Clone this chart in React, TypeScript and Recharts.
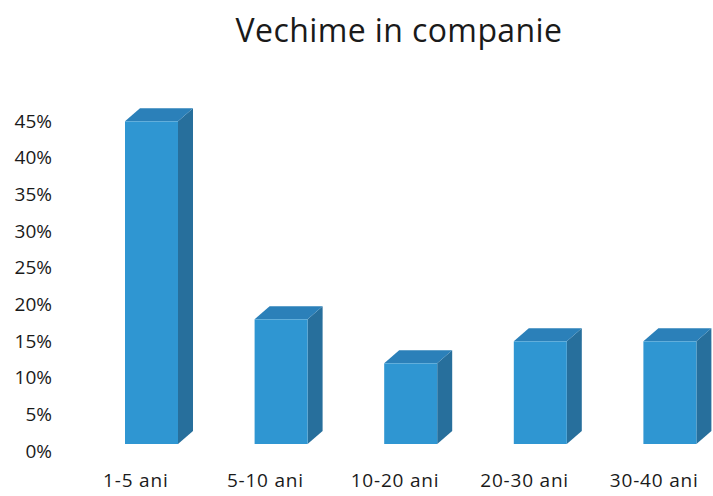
import React from "react";
import { BarChart, Bar, XAxis, YAxis } from "recharts";

const categories = ["1-5 ani", "5-10 ani", "10-20 ani", "20-30 ani", "30-40 ani"];
const values = [0.44, 0.17, 0.11, 0.14, 0.14];
const yTicks = [0, 0.05, 0.1, 0.15, 0.2, 0.25, 0.3, 0.35, 0.4, 0.45];

const data = categories.map((c, i) => ({ name: c, value: values[i] }));

const FRONT = "#2F96D2";
const SIDE = "#276F9C";
const TOP = "#2B80B9";

const Box3D = (props: any) => {
  const { x, y, width, height } = props;
  const lift = 7;
  const dx = 15;
  const dy = 13;
  const fx = x;
  const fy = y - lift;
  const fb = y + height - lift;
  const top = `${fx},${fy} ${fx + width},${fy} ${fx + width + dx},${fy - dy} ${fx + dx},${fy - dy}`;
  const side = `${fx + width},${fy} ${fx + width + dx},${fy - dy} ${fx + width + dx},${fb - dy} ${fx + width},${fb}`;
  return (
    <g>
      <polygon points={side} fill={SIDE} />
      <polygon points={top} fill={TOP} />
      <rect x={fx} y={fy} width={width} height={height} fill={FRONT} />
    </g>
  );
};

const XTick = (props: any) => {
  const { x, y, payload } = props;
  return (
    <text
      x={x - 16}
      y={y}
      dy="0.71em"
      textAnchor="middle"
      fill="#1a1a1a"
      fontSize={19}
      letterSpacing={0.8}
      fontFamily="Open Sans, sans-serif"
    >
      {payload.value}
    </text>
  );
};

export default function App() {
  return (
    <div style={{ position: "absolute", left: 0, top: 0, width: 713, height: 496, background: "#fff", overflow: "hidden" }}>
      <div
        style={{
          position: "absolute",
          left: 0,
          width: 798,
          top: 9,
          textAlign: "center",
          fontFamily: "Open Sans, sans-serif",
          fontSize: 32,
          letterSpacing: 0.4,
          color: "#1a1a1a",
          lineHeight: "42px",
        }}
      >
        Vechime in companie
      </div>
      <BarChart
        width={713}
        height={496}
        data={data}
        margin={{ top: 121, right: -22, bottom: 15, left: 27 }}
        barCategoryGap={0}
      >
        <XAxis
          dataKey="name"
          axisLine={false}
          tickLine={false}
          tickSize={0}
          tickMargin={23}
          height={30}
          interval={0}
          tick={<XTick />}
        />
        <YAxis
          domain={[0, 0.45]}
          ticks={yTicks}
          axisLine={false}
          tickLine={false}
          tickSize={0}
          tickMargin={35}
          width={60}
          interval={0}
          tickFormatter={(v: number) => `${Math.round(v * 100)}%`}
          tick={{ fill: "#1a1a1a", fontSize: 19, fontFamily: "Open Sans, sans-serif" }}
        />
        <Bar dataKey="value" barSize={53} shape={<Box3D />} isAnimationActive={false} />
      </BarChart>
    </div>
  );
}
